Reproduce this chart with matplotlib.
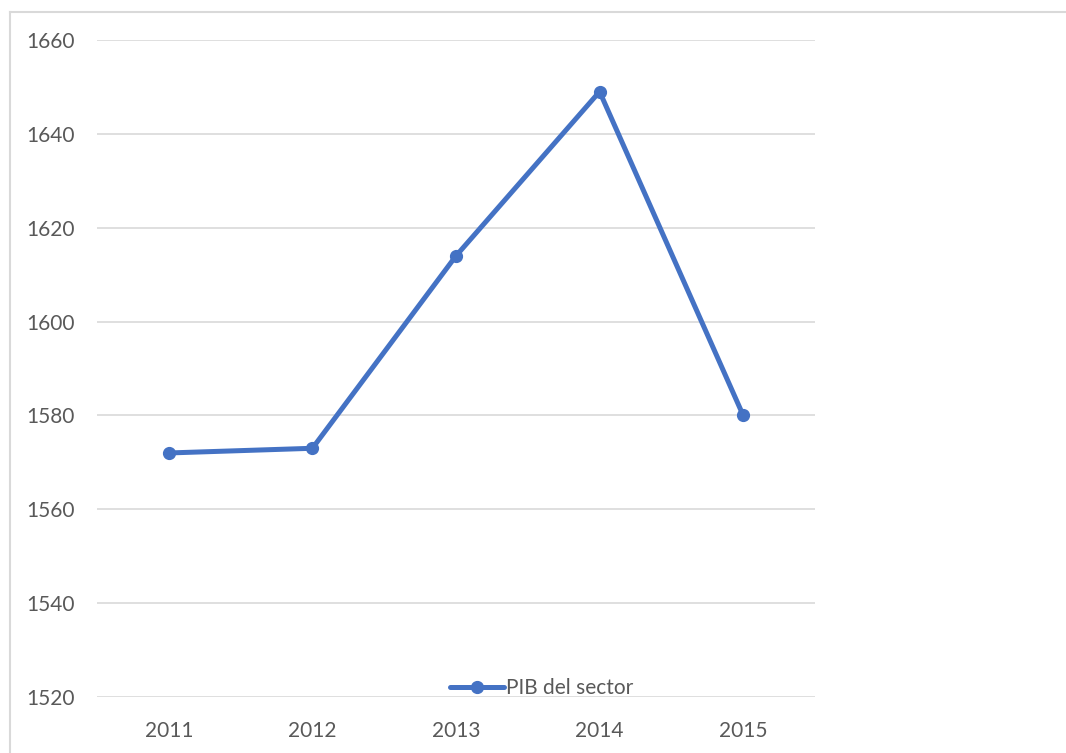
import matplotlib.pyplot as plt
from matplotlib.lines import Line2D

years = ["2011", "2012", "2013", "2014", "2015"]
pib = [1572, 1573, 1614, 1649, 1580]
y_ticks = [1520, 1540, 1560, 1580, 1600, 1620, 1640, 1660]

LINE_COLOR = "#4472C4"
TEXT_COLOR = "#595959"
GRID_COLOR = "#D9D9D9"

plt.rcParams["font.family"] = ["Lato", "DejaVu Sans"]

fig = plt.figure(figsize=(10.66, 7.53), dpi=100)
ax = fig.add_axes([97 / 1066, 1 - 697 / 753, (815 - 97) / 1066, (697 - 40) / 753])

x = list(range(len(years)))
ax.plot(x, pib, color=LINE_COLOR, linewidth=3.6, marker="o", markersize=8.5,
        label="PIB del sector", zorder=3, solid_capstyle="round")

ax.set_xlim(-0.5, len(years) - 0.5)
ax.set_ylim(y_ticks[0], y_ticks[-1])
ax.set_xticks(x)
ax.set_xticklabels(years)
ax.set_yticks(y_ticks)
ax.tick_params(length=0, labelsize=15, labelcolor=TEXT_COLOR)
ax.tick_params(axis="x", pad=17)
ax.tick_params(axis="y", pad=16)
ax.grid(axis="y", color=GRID_COLOR, linewidth=1.2)
for s in ax.spines.values():
    s.set_visible(False)
ax.set_axisbelow(True)

ax.legend(loc="center", bbox_to_anchor=(542 / 1066, 1 - 688 / 753),
          bbox_transform=fig.transFigure, frameon=False, fontsize=15,
          labelcolor=TEXT_COLOR, handlelength=2.6, handletextpad=0.1)

# chart border (partially cropped in the reference)
bx = 9.5 / 1066
by = 1 - 11.5 / 753
fig.add_artist(Line2D([bx, bx], [0, by], color=GRID_COLOR, linewidth=1.5, transform=fig.transFigure))
fig.add_artist(Line2D([bx, 1], [by, by], color=GRID_COLOR, linewidth=1.5, transform=fig.transFigure))

fig.savefig("out.png", dpi=100)
